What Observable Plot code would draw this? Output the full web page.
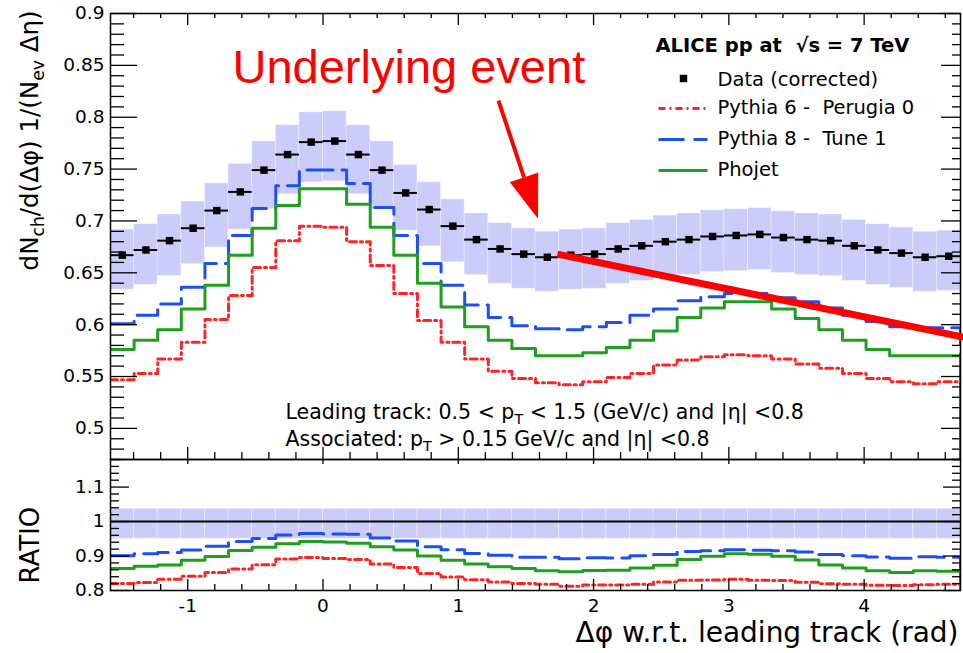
<!DOCTYPE html>
<html>
<head>
<meta charset="utf-8">
<script src="https://cdn.jsdelivr.net/npm/d3@7"></script>
<script src="https://cdn.jsdelivr.net/npm/@observablehq/plot@0.6"></script>
<style>
  html, body { margin: 0; padding: 0; background: #fff; }
  #chart { position: relative; width: 963px; height: 653px; overflow: hidden; }
  #chart svg { display: block; }
</style>
</head>
<body>
<div id="chart"></div>
<script>
// ---------------- DATA ----------------
const nBins = 36;
// Data (corrected): dN/d(Δφ) per bin, 36 bins from -π/2 to 3π/2
const dataValues = [0.667,0.672,0.681,0.693,0.710,0.728,0.749,0.764,0.776,0.777,0.764,0.749,0.727,0.711,0.695,0.682,0.673,0.668,
                    0.665,0.667,0.668,0.673,0.676,0.680,0.682,0.685,0.686,0.687,0.684,0.682,0.681,0.676,0.672,0.669,0.665,0.666];
// Systematic uncertainty (relative), upper / lower
const sysUpRel = 0.037;
const sysDownRel = 0.05;
const pythia6 = [0.547,0.553,0.567,0.583,0.605,0.628,0.655,0.681,0.695,0.694,0.680,0.657,0.630,0.604,0.583,0.567,0.555,0.548,
                 0.544,0.542,0.545,0.549,0.553,0.561,0.566,0.569,0.571,0.570,0.567,0.562,0.558,0.553,0.548,0.545,0.543,0.545];
const pythia8 = [0.601,0.609,0.620,0.636,0.659,0.686,0.712,0.734,0.749,0.749,0.736,0.713,0.686,0.659,0.638,0.619,0.607,0.599,
                 0.596,0.595,0.598,0.602,0.609,0.615,0.623,0.627,0.630,0.630,0.626,0.622,0.616,0.609,0.603,0.598,0.597,0.597];
const phojet  = [0.576,0.585,0.595,0.615,0.638,0.667,0.693,0.715,0.731,0.731,0.716,0.694,0.667,0.640,0.617,0.598,0.585,0.577,
                 0.570,0.570,0.573,0.578,0.585,0.594,0.607,0.616,0.622,0.622,0.615,0.606,0.595,0.585,0.576,0.570,0.570,0.570];
const modelNames = ["Pythia 6 -  Perugia 0", "Pythia 8 -  Tune 1", "Phojet"];
const dataName = "Data (corrected)";
const legendTitle = "ALICE pp at  √s = 7 TeV";
const xTicks = [-1, 0, 1, 2, 3, 4];
const yTicksTop = [0.5, 0.55, 0.6, 0.65, 0.7, 0.75, 0.8, 0.85, 0.9];
const yTicksRatio = [0.8, 0.9, 1, 1.1];
const yTitle = "dN_{ch}/d(Δφ) 1/(N_{ev} Δη)";
const ratioTitle = "RATIO";
const xTitle = "Δφ w.r.t. leading track (rad)";
const cutText1 = "Leading track: 0.5 < p_{T} < 1.5 (GeV/c) and |η| <0.8";
const cutText2 = "Associated: p_{T} > 0.15 GeV/c and |η| <0.8";
const annotationText = "Underlying event";
// annotation geometry in data units (Δφ, dN/dΔφ)
const arrowShaft = [{x1: 1.297, y1: 0.816, x2: 1.486, y2: 0.742}];
const arrowHead = [{x: 1.486, y: 0.742}];
const trendLine = [{x1: 1.733, y1: 0.668, x2: 4.734, y2: 0.588}];

// ---------------- STYLE / LAYOUT ----------------
const modelColors = ["#ff2424", "#1d4ff2", "#1f9e1f"];
const modelDash = ["7,4,2,4", "26,9", null];
const bandColor = "#ccccfa";
const FONT = "DejaVu Sans";
const W = 963, ML = 110, MR = 3;
const topH = 459, topMT = 13;
const botH = 194, botMB = 63;
const frameW = W - ML - MR;
const topFrameH = topH - topMT;
const botFrameH = botH - botMB;
const xDomain = [-Math.PI / 2, 3 * Math.PI / 2];
const yDomainTop = [0.47, 0.9];
const yDomainRatio = [0.8, 1.18];

// ---------------- DERIVED ----------------
const binEdges = d3.range(nBins + 1).map(i => xDomain[0] + i * (xDomain[1] - xDomain[0]) / nBins);
const bins = dataValues.map((v, i) => ({
  lo: binEdges[i], hi: binEdges[i + 1], mid: (binEdges[i] + binEdges[i + 1]) / 2,
  v, up: v * (1 + sysUpRel), down: v * (1 - sysDownRel)
}));
const models = [pythia6, pythia8, phojet];
function stepPts(values, f) {
  const pts = values.map((v, i) => ({x: binEdges[i], y: f(v, i)}));
  pts.push({x: binEdges[nBins], y: f(values[nBins - 1], nBins - 1)});
  pts.push({x: binEdges[nBins], y: 0});
  return pts;
}
// pixel (within top svg) -> data, used only for legend sample lines
const px2x = px => xDomain[0] + (px - ML) / frameW * (xDomain[1] - xDomain[0]);
const px2y = py => yDomainTop[1] - (py - topMT) / topFrameH * (yDomainTop[1] - yDomainTop[0]);

const minorTop = d3.range(47, 91).map(v => v / 100).filter(v => Math.round(v * 100) % 5 !== 0);
const majorTop = d3.range(50, 91, 5).map(v => v / 100);
const minorRatio = d3.range(80, 119, 2).map(v => v / 100).filter(v => Math.round(v * 100) % 10 !== 0);
const majorRatio = d3.range(80, 119, 10).map(v => v / 100);
const minorX = d3.range(-7, 24).map(v => v / 5).filter(v => Math.abs(v - Math.round(v)) > 1e-9);

function yTicks(values, side, len, fh) {
  return Plot.tickY(values, {y: d => d, stroke: "black", strokeWidth: 1.3,
    insetLeft: side === "left" ? 0 : frameW - len, insetRight: side === "left" ? frameW - len : 0});
}
function xTicksMark(values, side, len, fh) {
  return Plot.tickX(values, {x: d => d, stroke: "black", strokeWidth: 1.3,
    insetTop: side === "top" ? 0 : fh - len, insetBottom: side === "top" ? fh - len : 0});
}

// ---------------- TOP PANEL ----------------
const legendRows = [108, 139, 170];
const legendMarks = [
  Plot.text([legendTitle], {text: d => d, frameAnchor: "top-left", dx: 545, dy: 32, lineAnchor: "middle",
    textAnchor: "start", fontSize: 19.5, fontWeight: "bold", fill: "black"}),
  Plot.dot([dataName], {frameAnchor: "top-left", dx: 683 - ML, dy: 78 - topMT, symbol: "square", r: 4.2, fill: "black"}),
  Plot.text([dataName], {text: d => d, frameAnchor: "top-left", dx: 717 - ML, dy: 79 - topMT, lineAnchor: "middle",
    textAnchor: "start", fontSize: 19.5, fill: "black"}),
  ...modelNames.flatMap((name, i) => [
    Plot.link([name], {x1: () => px2x(658), x2: () => px2x(707), y1: () => px2y(legendRows[i]), y2: () => px2y(legendRows[i]),
      stroke: modelColors[i], strokeWidth: 3, strokeDasharray: modelDash[i]}),
    Plot.text([name], {text: d => d, frameAnchor: "top-left", dx: 717 - ML, dy: legendRows[i] - topMT - 1, lineAnchor: "middle",
      textAnchor: "start", fontSize: 19.5, fill: "black"})
  ])
];

const topPlot = Plot.plot({
  width: W, height: topH, marginLeft: ML, marginRight: MR, marginTop: topMT, marginBottom: 0,
  style: {fontFamily: FONT, background: "transparent", overflow: "visible"},
  x: {domain: xDomain, axis: null},
  y: {domain: yDomainTop, axis: null},
  marks: [
    Plot.rect(bins, {x1: "lo", x2: "hi", y1: "down", y2: "up", fill: bandColor, stroke: "#ffffff", strokeOpacity: 0.35, strokeWidth: 1}),
    ...models.map((vals, i) => Plot.line(stepPts(vals, v => v), {x: "x", y: "y", curve: "step-after",
      stroke: modelColors[i], strokeWidth: 3, strokeDasharray: modelDash[i], clip: true})),
    Plot.ruleY(bins, {y: "v", x1: "lo", x2: "hi", stroke: "black", strokeWidth: 2}),
    Plot.dot(bins, {x: "mid", y: "v", symbol: "square", r: 4.2, fill: "black"}),
    Plot.frame({stroke: "black", strokeWidth: 1.5}),
    yTicks(minorTop, "left", 14, topFrameH),
    yTicks(majorTop, "left", 27, topFrameH),
    yTicks(minorTop, "right", 8, topFrameH),
    yTicks(majorTop, "right", 19, topFrameH),
    xTicksMark(minorX, "top", 5, topFrameH),
    xTicksMark(xTicks, "top", 12, topFrameH),
    xTicksMark(minorX, "bottom", 7, topFrameH),
    xTicksMark(xTicks, "bottom", 12, topFrameH),
    Plot.axisY(yTicksTop, {anchor: "left", tickSize: 0, tickPadding: 6, fontSize: 18.5, tickFormat: d => String(d), label: null}),
    Plot.text([yTitle], {text: d => d, frameAnchor: "top-left", dx: -80, dy: -3, rotate: -90,
      textAnchor: "end", lineAnchor: "middle", fontSize: 24.5, fill: "black"}),
    Plot.text([cutText1], {text: d => d, frameAnchor: "top-left", dx: 285 - ML, dy: 399, lineAnchor: "middle",
      textAnchor: "start", fontSize: 20.5, fill: "black"}),
    Plot.text([cutText2], {text: d => d, frameAnchor: "top-left", dx: 285 - ML, dy: 426, lineAnchor: "middle",
      textAnchor: "start", fontSize: 20.5, fill: "black"}),
    ...legendMarks,
    Plot.text([annotationText], {text: d => d, frameAnchor: "top-left", dx: 232 - ML, dy: 82 - topMT, lineAnchor: "bottom",
      textAnchor: "start", fontSize: 47, fill: "#ff0000", fontFamily: "Liberation Sans"}),
    Plot.link(arrowShaft, {x1: "x1", y1: "y1", x2: "x2", y2: "y2", stroke: "#ff0000", strokeWidth: 4}),
    Plot.vector(arrowHead, {x: "x", y: "y", length: 42, r: 14.5, rotate: 161.3, anchor: "start", shape: "spike",
      fill: "#ff0000", stroke: "#ff0000", strokeWidth: 1}),
    Plot.link(trendLine, {x1: "x1", y1: "y1", x2: "x2", y2: "y2", stroke: "#ff0000", strokeWidth: 7})
  ]
});

// ---------------- RATIO PANEL ----------------
const botPlot = Plot.plot({
  width: W, height: botH, marginLeft: ML, marginRight: MR, marginTop: 0, marginBottom: botMB,
  style: {fontFamily: FONT, background: "transparent", overflow: "visible"},
  x: {domain: xDomain, axis: null},
  y: {domain: yDomainRatio, axis: null},
  marks: [
    Plot.rect(bins, {x1: "lo", x2: "hi", y1: () => 1 - sysDownRel, y2: () => 1 + sysUpRel, fill: bandColor,
      stroke: "#ffffff", strokeOpacity: 0.35, strokeWidth: 1}),
    Plot.ruleY([1], {stroke: "black", strokeWidth: 2}),
    ...models.map((vals, i) => Plot.line(stepPts(vals, (v, k) => v / dataValues[k]), {x: "x", y: "y", curve: "step-after",
      stroke: modelColors[i], strokeWidth: 3, strokeDasharray: modelDash[i], clip: true})),
    Plot.frame({stroke: "black", strokeWidth: 1.5}),
    yTicks(minorRatio, "left", 9, botFrameH),
    yTicks(majorRatio, "left", 19, botFrameH),
    yTicks(minorRatio, "right", 8, botFrameH),
    yTicks(majorRatio, "right", 17, botFrameH),
    xTicksMark(xTicks, "top", 5, botFrameH),
    xTicksMark(minorX, "bottom", 6, botFrameH),
    xTicksMark(xTicks, "bottom", 11, botFrameH),
    Plot.axisY(yTicksRatio, {anchor: "left", tickSize: 0, tickPadding: 6, fontSize: 18.5, tickFormat: d => String(d), label: null}),
    Plot.axisX(xTicks, {anchor: "bottom", tickSize: 0, tickPadding: 8, fontSize: 18.5, tickFormat: d => String(d), label: null}),
    Plot.text([ratioTitle], {text: d => d, frameAnchor: "bottom-left", dx: -80, dy: -7, rotate: -90,
      textAnchor: "start", lineAnchor: "middle", fontSize: 26, fill: "black"}),
    Plot.text([xTitle], {text: d => d, frameAnchor: "bottom-right", dx: -2, dy: 43,
      textAnchor: "end", lineAnchor: "middle", fontSize: 28, fill: "black"})
  ]
});

// subscripts written as _{...}
function richify(svg) {
  const NS = "http://www.w3.org/2000/svg";
  svg.querySelectorAll("text").forEach(t => {
    const s = t.textContent;
    if (!s.includes("_{")) return;
    while (t.firstChild) t.removeChild(t.firstChild);
    const re = /_\{([^}]*)\}/g;
    let last = 0, m, pendingReset = false;
    const addText = str => {
      if (!str) return;
      const sp = document.createElementNS(NS, "tspan");
      if (pendingReset) { sp.setAttribute("dy", "-0.245em"); pendingReset = false; }
      sp.textContent = str;
      t.appendChild(sp);
    };
    while ((m = re.exec(s))) {
      addText(s.slice(last, m.index));
      const sub = document.createElementNS(NS, "tspan");
      sub.setAttribute("font-size", "0.7em");
      sub.setAttribute("dy", pendingReset ? "0" : "0.35em");
      sub.textContent = m[1];
      t.appendChild(sub);
      pendingReset = true;
      last = m.index + m[0].length;
    }
    addText(s.slice(last));
  });
}
richify(topPlot);
richify(botPlot);

const chart = document.getElementById("chart");
chart.appendChild(topPlot);
chart.appendChild(botPlot);
</script>
</body>
</html>
